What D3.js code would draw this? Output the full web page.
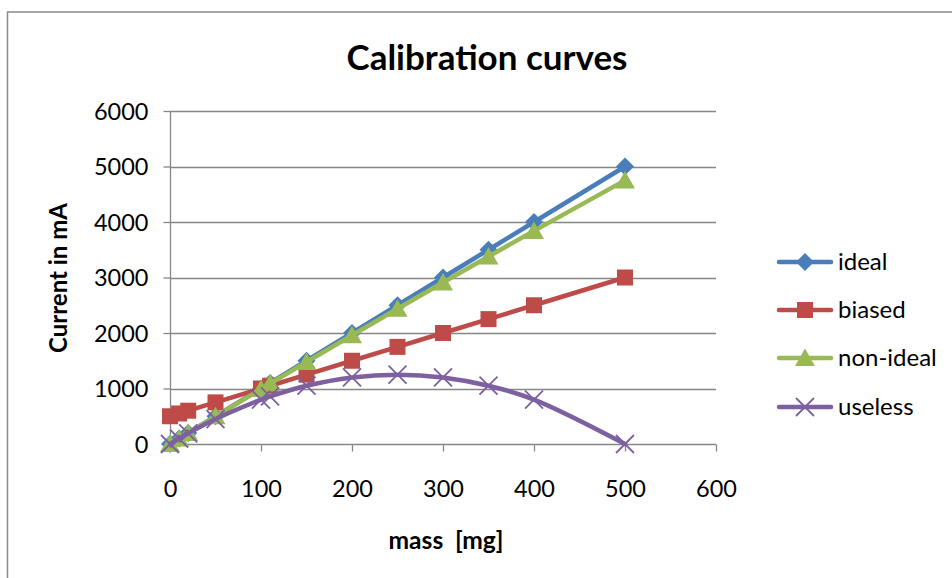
<!DOCTYPE html>
<html>
<head>
<meta charset="utf-8">
<script src="https://cdn.jsdelivr.net/npm/d3@7"></script>
<style>
  html, body { margin: 0; padding: 0; background: #fff; }
  svg { display: block; font-family: "Lato", "Open Sans", sans-serif; }
</style>
</head>
<body>
<svg id="chart" width="952" height="578"></svg>
<script>
// Mass values [mg] shared by all series
const mass = [0, 10, 20, 50, 100, 110, 150, 200, 250, 300, 350, 400, 500];

// Measured current [mA] per calibration curve
const ideal    = [0, 100, 200, 500, 1000, 1100, 1500, 2000, 2500, 3000, 3500, 4000, 5000];
const biased   = [500, 550, 600, 750, 1000, 1050, 1250, 1500, 1750, 2000, 2250, 2500, 3000];
const nonIdeal = [0, 100, 200, 498, 990, 1088, 1478, 1960, 2438, 2910, 3378, 3840, 4750];
const useless  = [0, 98, 192, 450, 800, 858, 1050, 1200, 1250, 1200, 1050, 800, 0];

const seriesNames = ["ideal", "biased", "non-ideal", "useless"];
const seriesColors = ["#4a7ebb", "#be4b48", "#98b954", "#7d60a0"];
const seriesMarkers = ["diamond", "square", "triangle", "cross"];
const seriesValues = [ideal, biased, nonIdeal, useless];

const xTicks = [0, 100, 200, 300, 400, 500, 600];
const yTicks = [0, 1000, 2000, 3000, 4000, 5000, 6000];

const svg = d3.select("#chart");
const W = 952, H = 578;
const plot = { left: 170, right: 716, top: 111, bottom: 444 };

// Size a text node so that its rendered width equals the given width
function fitWidth(sel, width) {
  sel.attr("font-size", 100);
  const w = sel.node().getComputedTextLength();
  sel.attr("font-size", 100 * width / w);
  return sel;
}

// Outer chart frame
svg.append("rect")
  .attr("x", 7.5).attr("y", 12)
  .attr("width", W + 10).attr("height", H + 10)
  .attr("fill", "#fff").attr("stroke", "#8a8a8a").attr("stroke-width", 1.5);

const x = d3.scaleLinear().domain([0, 600]).range([plot.left, plot.right]);
const y = d3.scaleLinear().domain([0, 6000]).range([plot.bottom, plot.top]);

// Horizontal gridlines
svg.append("g")
  .selectAll("line")
  .data(yTicks.filter(d => d > 0))
  .join("line")
  .attr("x1", plot.left).attr("x2", plot.right)
  .attr("y1", d => Math.round(y(d)) + 0.5).attr("y2", d => Math.round(y(d)) + 0.5)
  .attr("stroke", "#868686").attr("stroke-width", 1.3);

// Axes
const axisColor = "#868686";
const tickFont = 23.5;
const yAxis = svg.append("g")
  .attr("transform", `translate(${plot.left + 0.5},0)`)
  .call(d3.axisLeft(y).tickValues(yTicks).tickSize(7).tickPadding(15).tickFormat(d3.format("d")));
const xAxis = svg.append("g")
  .attr("transform", `translate(0,${Math.round(plot.bottom) + 0.5})`)
  .call(d3.axisBottom(x).tickValues(xTicks).tickSize(7).tickPadding(0).tickFormat(d3.format("d")));

[yAxis, xAxis].forEach(g => {
  g.select(".domain").attr("stroke", axisColor).attr("stroke-width", 1.3);
  g.selectAll(".tick line").attr("stroke", axisColor).attr("stroke-width", 1.3);
  g.selectAll(".tick text").attr("fill", "#000").attr("font-size", tickFont)
    .attr("font-family", "Lato, sans-serif");
});
yAxis.selectAll(".tick text").attr("dy", "0.35em");
xAxis.selectAll(".tick text").attr("y", 52).attr("dy", 0);
xAxis.select(".domain").attr("d", `M${plot.left},0H${plot.right}`);
yAxis.select(".domain").attr("d", `M0,${plot.top}V${plot.bottom}`);

// Markers
function markerPath(type) {
  switch (type) {
    case "diamond": return "M0,-9L9,0L0,9L-9,0Z";
    case "square": return "M-8,-8H8V8H-8Z";
    case "triangle": return "M0,-9.5L10,8H-10Z";
    case "cross": return "M-9,-9L9,9M-9,9L9,-9";
  }
}

const lineStraight = d3.line().x(d => x(d[0])).y(d => y(d[1]));
const lineSmooth = d3.line().x(d => x(d[0])).y(d => y(d[1])).curve(d3.curveCatmullRom.alpha(0.5));

seriesValues.forEach((vals, i) => {
  const pts = mass.map((m, j) => [m, vals[j]]);
  const g = svg.append("g");
  g.append("path")
    .datum(pts)
    .attr("d", seriesMarkers[i] === "cross" ? lineSmooth : lineStraight)
    .attr("fill", "none")
    .attr("stroke", seriesColors[i])
    .attr("stroke-width", 4.5)
    .attr("stroke-linejoin", "round")
    .attr("stroke-linecap", "round");
  g.selectAll("path.mk")
    .data(pts)
    .join("path")
    .attr("class", "mk")
    .attr("transform", d => `translate(${x(d[0])},${y(d[1])})`)
    .attr("d", markerPath(seriesMarkers[i]))
    .attr("fill", seriesMarkers[i] === "cross" ? "none" : seriesColors[i])
    .attr("stroke", seriesColors[i])
    .attr("stroke-width", seriesMarkers[i] === "cross" ? 1.8 : 0);
});

// Title and axis titles
fitWidth(svg.append("text")
  .attr("x", 487).attr("y", 70)
  .attr("text-anchor", "middle")
  .attr("font-weight", "bold")
  .text("Calibration curves"), 281);

fitWidth(svg.append("text")
  .attr("x", 446).attr("y", 549)
  .attr("text-anchor", "middle")
  .attr("font-weight", "bold")
  .attr("xml:space", "preserve")
  .text("mass  [mg]"), 115);

fitWidth(svg.append("text")
  .attr("transform", "translate(67,278) rotate(-90)")
  .attr("text-anchor", "middle")
  .attr("font-weight", "bold")
  .text("Current in mA"), 150);

// Legend
const legend = svg.append("g");
const legendY = [262, 310, 358, 407];
seriesNames.forEach((name, i) => {
  const row = legend.append("g").attr("transform", `translate(0,${legendY[i]})`);
  row.append("line")
    .attr("x1", 779).attr("x2", 831).attr("y1", 0).attr("y2", 0)
    .attr("stroke", seriesColors[i]).attr("stroke-width", 4.5).attr("stroke-linecap", "round");
  row.append("path")
    .attr("transform", "translate(805,0)")
    .attr("d", markerPath(seriesMarkers[i]))
    .attr("fill", seriesMarkers[i] === "cross" ? "none" : seriesColors[i])
    .attr("stroke", seriesColors[i])
    .attr("stroke-width", seriesMarkers[i] === "cross" ? 1.8 : 0);
  row.append("text")
    .attr("x", 838).attr("y", 0).attr("dy", "0.35em")
    .attr("font-size", 24)
    .text(name);
});
</script>
</body>
</html>
